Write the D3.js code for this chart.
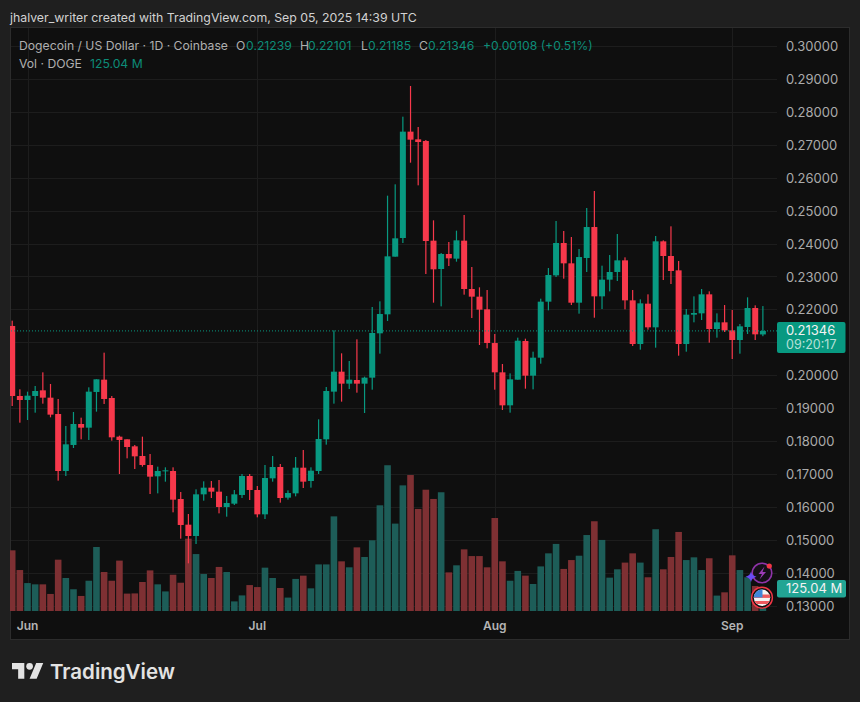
<!DOCTYPE html>
<html><head><meta charset="utf-8">
<style>html,body{margin:0;padding:0;background:#1f1f1f}svg{display:block}text{font-family:Inter,"Noto Sans",sans-serif}</style>
<script src="https://cdn.jsdelivr.net/npm/d3@7/dist/d3.min.js"></script>
</head><body><div id="c"></div>
<script>
const opens=[.21496,.19368,.19246,.19368,.19540,.19317,.18821,.17088,.17879,.18517,.18405,.19490,.19864,.19307,.18132,.18051,.17838,.17544,.17271,.16926,.17078,.17088,.16237,.15457,.15112,.16379,.16582,.16460,.15994,.16095,.16359,.16936,.16511,.15771,.16865,.17210,.16278,.16409,.17189,.16784,.17088,.18051,.19500,.20107,.19743,.19854,.19743,.19925,.21273,.21850,.23603,.24170,.27403,.27169,.27119,.24089,.23228,.23684,.23542,.24089,.22620,.22387,.22002,.20978,.20087,.19084,.19864,.21039,.19986,.20533,.22235,.23035,.24018,.23400,.22204,.23562,.24504,.22397,.22904,.23137,.23491,.22275,.20948,.22174,.21455,.24069,.23623,.23187,.20948,.21840,.21880,.22458,.21404,.21607,.21363,.21070,.21465,.22042,.21239];
const highs=[.21658,.19571,.19500,.19672,.20087,.19733,.19277,.18456,.18882,.18709,.19631,.19875,.20685,.19368,.18162,.18051,.17879,.18132,.17605,.17220,.17200,.17200,.16450,.15781,.16531,.16774,.16784,.16815,.16328,.16511,.16997,.16997,.16632,.17271,.17544,.17301,.16501,.17514,.17726,.17200,.18659,.19641,.21364,.20665,.20432,.21090,.19956,.22073,.22245,.25457,.25802,.27858,.28791,.27544,.27149,.24707,.23714,.24049,.24393,.24870,.23289,.22671,.22590,.21252,.20340,.20056,.21141,.21110,.20715,.22326,.23258,.24687,.24383,.24200,.23836,.25082,.25599,.23329,.23653,.24292,.23582,.22589,.22306,.22458,.24231,.24099,.24525,.23471,.22012,.22397,.22620,.22549,.21880,.22133,.21982,.21556,.22367,.22123,.22101];
const lows=[.19064,.18557,.18638,.18861,.19135,.18719,.16794,.16936,.17787,.18051,.18031,.18892,.19125,.18010,.16997,.17473,.17149,.17220,.16389,.16409,.16764,.15832,.15031,.14282,.14869,.16186,.16268,.15801,.15700,.16055,.16268,.16207,.15680,.15629,.16764,.16126,.16217,.16318,.16571,.16582,.16997,.17889,.19135,.19196,.19581,.19469,.18851,.19560,.20655,.21648,.23603,.24018,.26460,.25771,.23076,.22205,.22093,.23319,.23451,.22448,.21739,.20918,.20817,.19560,.18942,.18861,.19864,.19590,.19570,.20350,.21971,.22985,.22934,.22133,.21870,.23137,.21748,.22012,.22549,.22863,.22002,.20887,.20776,.21384,.20837,.22893,.22772,.20593,.20715,.21607,.21678,.20989,.21141,.21313,.20492,.20654,.21252,.21070,.21185];
const closes=[.19368,.19246,.19378,.19520,.19317,.18801,.17088,.17899,.18517,.18405,.19500,.19875,.19277,.18112,.18031,.17818,.17534,.17271,.16916,.17088,.17108,.16217,.15447,.15112,.16379,.16582,.16460,.15994,.16116,.16379,.16936,.16511,.15771,.16875,.17210,.16267,.16419,.17189,.16764,.17098,.18061,.19520,.20107,.19743,.19864,.19743,.19925,.21283,.21860,.23613,.24160,.27403,.27159,.27088,.24079,.23218,.23684,.23552,.24099,.22620,.22387,.21992,.20979,.20087,.19084,.19874,.21049,.19986,.20533,.22235,.23045,.24018,.23400,.22204,.23592,.24504,.22397,.22904,.23137,.23491,.22275,.20948,.22184,.21455,.24069,.23623,.23167,.20948,.21840,.21890,.22458,.21404,.21607,.21363,.21070,.21485,.22042,.21242,.21346];
const volumes=[334.7,226,154,147,147,94,283,182,120,83,167,353,215,167,278,96,97,160,224,147,108,200,156,399,314,204,182,243,215,53,86,143,132,239,182,127,74,177,195,125,257,257,522,274,241,351,298,390,583,804,482,693,750,563,669,618,655,213,252,340,303,303,241,513,274,167,221,195,149,246,318,370,232,281,305,419,495,392,184,230,267,318,267,186,451,230,298,436,281,296,226,291,85,103,307,226,186,138,125.04];
const priceTicks=[.30,.29,.28,.27,.26,.25,.24,.23,.22,.21,.20,.19,.18,.17,.16,.15,.14,.13];
const hiddenTick=.21; // covered by the last-price label
const monthIdx=[2,32,63,94];
const monthLabels=["Jun","Jul","Aug","Sep"];
const lastPrice=.21346, lastVol=125.04;

const W=860,H=702;
const panel={l:11,t:28,r:850,b:640,plotR:777};
const x=d3.scaleLinear().domain([0,98]).range([12.2,12.2+98*7.66]);
const y=d3.scaleLinear().domain([.13,.30]).range([605.5,46.2]);
const yv=d3.scaleLinear().domain([0,1000]).range([611,429.7]);
const UP="#089981",DN="#f7384b",UPV="#1d5d58",DNV="#7e3033";

const svg=d3.select("#c").append("svg").attr("width",W).attr("height",H).attr("viewBox",`0 0 ${W} ${H}`);
svg.append("rect").attr("width",W).attr("height",H).attr("fill","#1f1f1f");
svg.append("rect").attr("x",panel.l-.5).attr("y",panel.t-.5).attr("width",panel.r-panel.l).attr("height",panel.b-panel.t)
  .attr("fill","#0f0f0f").attr("stroke","#2c2c2c");
svg.append("defs").append("clipPath").attr("id","plot").append("rect")
  .attr("x",10).attr("y",panel.t).attr("width",panel.plotR-10).attr("height",611-panel.t);

// grid
const grid=svg.append("g").attr("stroke","#1d1d1d").attr("stroke-width",1);
grid.selectAll(".h").data(priceTicks).join("line").attr("x1",panel.l).attr("x2",panel.plotR)
  .attr("y1",d=>Math.round(y(d))+.5).attr("y2",d=>Math.round(y(d))+.5);
grid.selectAll(".v").data(monthIdx).join("line").attr("y1",panel.t).attr("y2",611)
  .attr("x1",d=>Math.round(x(d))+.5).attr("x2",d=>Math.round(x(d))+.5);

const data=d3.range(opens.length).map(i=>({i,o:opens[i],h:highs[i],l:lows[i],c:closes[i],v:volumes[i]}));
const plot=svg.append("g").attr("clip-path","url(#plot)");
// volume
plot.append("g").selectAll("rect").data(data).join("rect")
  .attr("x",d=>x(d.i)-3.3).attr("width",6.6)
  .attr("y",d=>yv(d.v)).attr("height",d=>yv(0)-yv(d.v))
  .attr("fill",d=>d.c>=d.o?UPV:DNV);
// last price dotted line
svg.append("line").attr("x1",panel.l).attr("x2",panel.plotR).attr("y1",y(lastPrice)).attr("y2",y(lastPrice))
  .attr("stroke",UP).attr("stroke-width",1).attr("stroke-dasharray","1 2");
// candles
plot.append("g").selectAll("rect").data(data).join("rect")
  .attr("x",d=>x(d.i)-.6).attr("width",1.2)
  .attr("y",d=>y(d.h)).attr("height",d=>y(d.l)-y(d.h))
  .attr("fill",d=>d.c>=d.o?UP:DN);
plot.append("g").selectAll("rect").data(data).join("rect")
  .attr("x",d=>x(d.i)-3).attr("width",6)
  .attr("y",d=>y(Math.max(d.o,d.c)))
  .attr("height",d=>Math.max(1,Math.abs(y(d.o)-y(d.c))))
  .attr("fill",d=>d.c>=d.o?UP:DN);

// price axis labels
svg.append("g").selectAll("text").data(priceTicks.filter(d=>d!==hiddenTick)).join("text")
  .attr("x",786).attr("y",d=>y(d)+1.5).attr("dominant-baseline","middle")
  .attr("font-size",13).attr("fill","#ababab").text(d=>d.toFixed(5));
// month labels
svg.append("g").selectAll("text").data(monthLabels).join("text")
  .attr("x",(d,i)=>x(monthIdx[i])).attr("y",627).attr("text-anchor","middle").attr("dominant-baseline","middle")
  .attr("font-size",12).attr("font-weight",600).attr("fill","#b4b4b4").text(d=>d);

// header + legend
svg.append("text").attr("x",10).attr("y",22).attr("font-size",12.3).attr("fill","#d2d2d2")
  .text("jhalver_writer created with TradingView.com, Sep 05, 2025 14:39 UTC");
const G="#0d8c78",LG="#b0b0b0";
const legendParts=[["Dogecoin / US Dollar · 1D · Coinbase",19,LG],["O",236,LG],["0.21239",246,G],["H",300,LG],["0.22101",308,G],["L",361,LG],["0.21185",368,G],["C",419,LG],["0.21346",428,G],["+0.00108 (+0.51%)",483,G]];
svg.append("g").selectAll("text").data(legendParts).join("text")
  .attr("x",d=>d[1]).attr("y",50).attr("font-size",12.2).attr("fill",d=>d[2]).text(d=>d[0]);
svg.append("text").attr("x",19).attr("y",67.5).attr("font-size",12.2).attr("fill",LG).text("Vol · DOGE");
svg.append("text").attr("x",90).attr("y",67.5).attr("font-size",12.2).attr("fill",G).text("125.04 M");

// price label
svg.append("rect").attr("x",777).attr("y",322).attr("width",68.5).attr("height",31).attr("rx",2).attr("fill",UP);
svg.append("text").attr("x",786).attr("y",331.5).attr("dominant-baseline","middle").attr("font-size",13).attr("fill","#f2f2f2").text(lastPrice.toFixed(5));
svg.append("text").attr("x",786).attr("y",345.5).attr("dominant-baseline","middle").attr("font-size",12.5).attr("fill","#b6e0d8").text("09:20:17");
// volume label
svg.append("rect").attr("x",777).attr("y",580).attr("width",69).attr("height",17.5).attr("rx",2).attr("fill","#22a594");
svg.append("text").attr("x",786).attr("y",589).attr("dominant-baseline","middle").attr("font-size",13).attr("fill","#f2f2f2").text(lastVol.toFixed(2)+" M");

// event icons
const ic=svg.append("g");
ic.append("circle").attr("cx",762).attr("cy",573).attr("r",9.8).attr("fill","#151018").attr("stroke","#8e33a8").attr("stroke-width",1.6);
ic.append("path").attr("d","M764.5 566.5 L758.5 574 L762 574 L759.5 579.5 L766 572 L762.5 572 Z").attr("fill","#9b3bb6");
ic.append("circle").attr("cx",769.3).attr("cy",566).attr("r",2.6).attr("fill","#f23645");
ic.append("path").attr("d","M751 571.5 Q752 575.7 756.5 576.7 Q752 577.7 751 582 Q750 577.7 745.5 576.7 Q750 575.7 751 571.5Z").attr("fill","#6a4cf6");
ic.append("circle").attr("cx",762).attr("cy",597.7).attr("r",10.4).attr("fill","#111").attr("stroke","#f23645").attr("stroke-width",1.4);
const fl=svg.append("defs").append("clipPath").attr("id","flag");
fl.append("circle").attr("cx",762).attr("cy",597.7).attr("r",8.2);
const f=ic.append("g").attr("clip-path","url(#flag)");
f.append("rect").attr("x",753).attr("y",589).attr("width",18).attr("height",18).attr("fill","#f4f4f4");
f.append("rect").attr("x",753).attr("y",594.5).attr("width",18).attr("height",3.4).attr("fill","#ee5a5f");
f.append("rect").attr("x",753).attr("y",601).attr("width",18).attr("height",3).attr("fill","#ee5a5f");
f.append("rect").attr("x",753).attr("y",589).attr("width",9.5).attr("height",8.5).attr("fill","#3f87d9");

// logo
const logo=svg.append("g").attr("transform","translate(12,663) scale(.88)").attr("fill","#e3e3e3");
logo.append("path").attr("d","M14 18H7V7H0V0h14v18zM28 18h-8l7.5-18h8L28 18z");
logo.append("circle").attr("cx",20).attr("cy",3.8).attr("r",3.8);
svg.append("text").attr("x",50).attr("y",679).attr("font-size",20.5).attr("font-weight",600).attr("fill","#e3e3e3").text("TradingView");
</script></body></html>
